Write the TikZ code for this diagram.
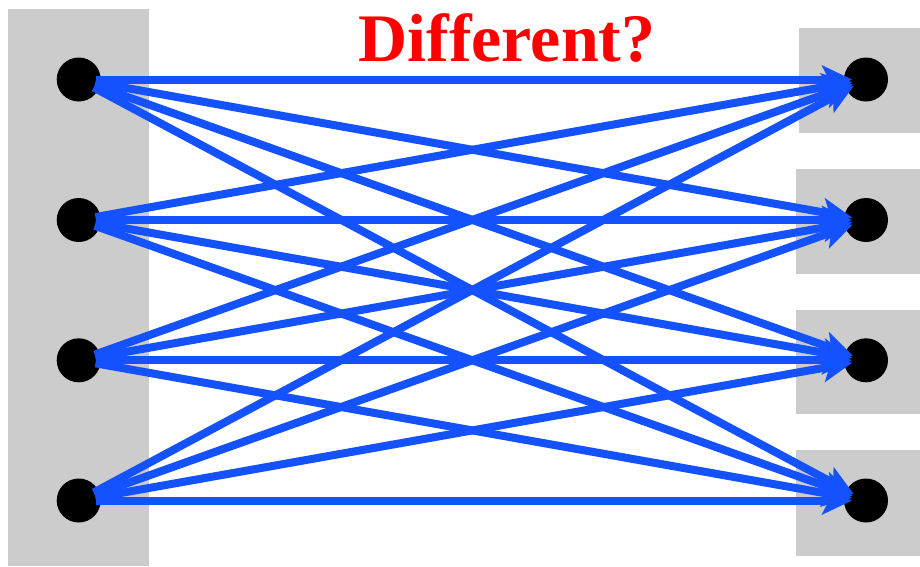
\documentclass[tikz,border=0pt]{standalone}
\usepackage{fontspec}
\setmainfont{Liberation Serif}
\usetikzlibrary{arrows.meta}
\definecolor{boxgray}{RGB}{204,204,204}
\definecolor{arrblue}{RGB}{20,82,255}
\definecolor{titlered}{RGB}{255,0,0}
\begin{document}
\begin{tikzpicture}[x=1pt,y=-1pt,
  panel/.style={fill=boxgray,draw=none},
  dot/.style={circle,fill=black,minimum size=44pt,inner sep=0pt},
  link/.style={draw=arrblue,line width=8pt,shorten <=17pt,shorten >=14pt,
    -{Stealth[length=30pt,width=28pt,inset=7pt]}}]
\useasboundingbox (0,0) rectangle (920,566);
\fill[panel] (8,9) rectangle (148.5,566);
\fill[panel] (799,28) rectangle (920,133);
\fill[panel] (796,169) rectangle (920,274);
\fill[panel] (796,310) rectangle (920,414);
\fill[panel] (796,450) rectangle (920,556);
\foreach \i/\yy in {1/79.5,2/220,3/360.3,4/500.5}{
  \node[dot] (L\i) at (78.7,\yy) {};
  \node[dot] (R\i) at (866,\yy) {};
}
\foreach \i in {1,...,4}{
  \foreach \j in {1,...,4}{
    \draw[link] (L\i.center) -- (R\j.center);
  }
}
\node[text=titlered,font=\bfseries\fontsize{68}{68}\selectfont,anchor=base] (title) at (507,61) {Different?};
\end{tikzpicture}
\end{document}
